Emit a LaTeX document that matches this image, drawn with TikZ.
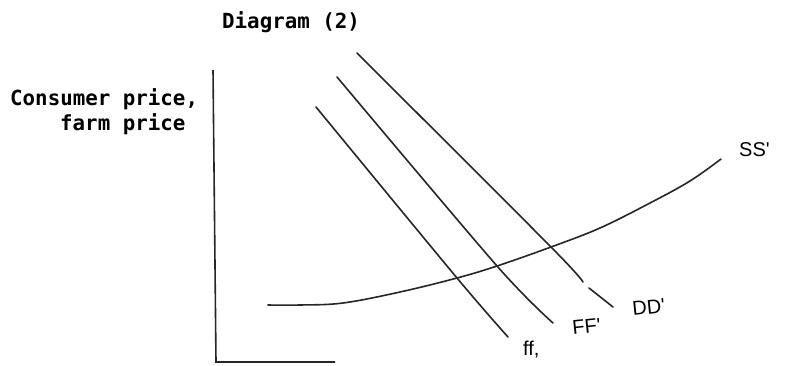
\documentclass[tikz,border=0pt]{standalone}
\usepackage{fontspec}
\newfontfamily\typefont{DejaVu Sans Mono}
\newfontfamily\handfont{Liberation Sans}
\begin{document}
\begin{tikzpicture}[x=1pt,y=-1pt,
  curve/.style={line width=1.6pt,line cap=round,line join=round,black!85},
  axisline/.style={line width=1.6pt,black!85},
  typed/.style={inner sep=0pt,anchor=base west,font=\typefont\bfseries\fontsize{20.8}{25}\selectfont},
  hand/.style={inner sep=0pt,anchor=base west,font=\handfont\fontsize{20}{24}\selectfont}]
\useasboundingbox (0,0) rectangle (787,365);
% texts
\node[typed] (title) at (222,28) {Diagram (2)};
\node[typed] (ylab1) at (10,105) {Consumer price,};
\node[typed] (ylab2) at (60,130) {farm price};
% axes
\coordinate (ytop) at (213,70);
\coordinate (origin) at (216,362);
\coordinate (xend) at (335,362);
\draw[axisline] (ytop) -- (origin) -- (xend);
% supply curve
\draw[curve] plot[smooth,tension=0.6] coordinates {(268,305) (300,305) (343,303) (400,292) (457,278) (497,266) (551,247) (600,228) (650,203) (690,181) (721,159)};
% demand lines
\draw[curve] plot[smooth] coordinates {(316,107) (457,278) (508,337)};
\draw[curve] plot[smooth] coordinates {(337,77) (497,266) (553,323)};
\draw[curve] plot[smooth] coordinates {(357,53) (551,247) (583,282)};
\coordinate (tickA) at (589,288);
\coordinate (tickB) at (613,307);
\draw[curve] (tickA) -- (tickB);
% labels
\node[hand] (ss) at (739,156) {SS'};
\node[hand] (ffl) at (523,355) {ff,};
\node[hand,rotate=6] (FFl) at (573,335) {FF'};
\node[hand,rotate=6] (DDl) at (633,316) {DD'};
\end{tikzpicture}
\end{document}
